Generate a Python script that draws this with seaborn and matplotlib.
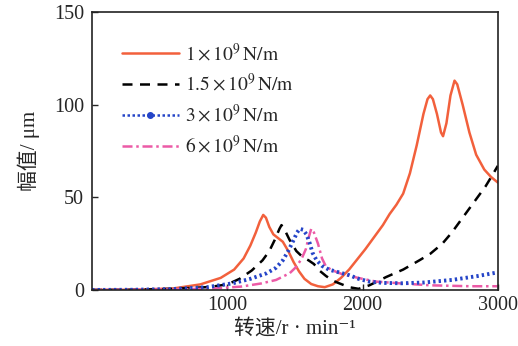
import numpy as np
import pandas as pd
import seaborn as sns
import matplotlib
matplotlib.use("Agg")
import matplotlib.pyplot as plt
from matplotlib.lines import Line2D

# values (speed in r/min, amplitude in um)
speed_1 = [0, 300, 600, 800, 950, 1050, 1120, 1170, 1210, 1240, 1265, 1285, 1310, 1340,
           1375, 1410, 1450, 1490, 1530, 1570, 1620, 1670, 1720, 1780, 1840, 1900, 1960,
           2020, 2080, 2150, 2200, 2250, 2300, 2350, 2400, 2450, 2480, 2500, 2520, 2550,
           2580, 2595, 2620, 2650, 2680, 2700, 2740, 2790, 2840, 2900, 2950, 3000]
amp_1 = [0, 0.1, 0.8, 3, 6.5, 11, 17, 24, 31, 37, 40.5, 39, 34, 30, 28, 26, 21, 15, 10,
         6, 3.2, 2, 1.5, 3, 6.5, 11, 16.5, 22, 28, 35, 41, 46, 52, 63, 78, 95, 103, 105,
         103, 95, 85, 83, 90, 105, 113, 111, 100, 85, 73, 65, 61, 58]

speed_15 = [0, 300, 600, 870, 1000, 1090, 1180, 1260, 1310, 1350, 1385, 1400, 1420, 1460,
            1510, 1560, 1600, 1640, 1680, 1730, 1780, 1830, 1900, 1970, 2050, 2120, 2175,
            2300, 2420, 2500, 2590, 2660, 2720, 2800, 2860, 2910, 2960, 3000]
amp_15 = [0, 0.1, 0.6, 1.6, 3, 6, 10.5, 16, 21, 27, 33, 35, 33, 27, 21, 17.5, 16, 14,
          10.5, 7.5, 5, 3.5, 1.5, 0.6, 2.5, 5, 7, 11, 16, 19.5, 25, 31, 37, 45, 51, 56,
          62, 67]

speed_3 = [0, 300, 600, 850, 1040, 1170, 1290, 1360, 1410, 1450, 1490, 1515, 1535, 1560,
           1585, 1610, 1630, 1660, 1700, 1750, 1800, 1850, 1900, 1970, 2050, 2150, 2290,
           2450, 2660, 2850, 3000]
amp_3 = [0, 0.1, 0.5, 1.5, 3.6, 6, 9, 12, 16, 21, 27, 31, 33, 32.5, 30, 25, 20, 16, 13,
         11, 10, 9, 8, 6, 4.5, 3.8, 3.6, 4, 5.4, 7.5, 9.5]

speed_6 = [0, 300, 600, 900, 1100, 1250, 1360, 1460, 1510, 1550, 1580, 1600, 1620, 1640,
           1670, 1700, 1730, 1780, 1850, 1980, 2100, 2270, 2500, 2800, 3000]
amp_6 = [0, 0.1, 0.3, 0.8, 1.8, 3.5, 5.4, 9, 12.5, 17, 22, 28, 33, 31, 25, 17, 12.5,
         10.5, 8.5, 6.3, 4.5, 3.6, 2.5, 2, 2]

labels = [r"$1\times10^{9}\,\mathrm{N/m}$", r"$1.5\times10^{9}\,\mathrm{N/m}$",
          r"$3\times10^{9}\,\mathrm{N/m}$", r"$6\times10^{9}\,\mathrm{N/m}$"]
x_ticks = [1000, 2000, 3000]
y_ticks = [0, 50, 100, 150]

sns.set_style("ticks")
plt.rcParams["font.family"] = ["Liberation Serif", "Noto Sans CJK SC", "DejaVu Sans"]
plt.rcParams["mathtext.fontset"] = "stix"
plt.rcParams["xtick.direction"] = "in"
plt.rcParams["ytick.direction"] = "in"

fig = plt.figure(figsize=(5.18, 3.46), dpi=100)
ax = fig.add_axes([0.178, 0.162, 0.783, 0.803])

red = "#f2603c"
blue = "#2545c8"
pink = "#ec5aa6"

sns.lineplot(x=speed_1, y=amp_1, ax=ax, color=red, linewidth=1.8)
sns.lineplot(x=speed_15, y=amp_15, ax=ax, color="black", linewidth=1.8,
             linestyle=(0, (4, 3)))
sns.lineplot(x=speed_6, y=amp_6, ax=ax, color=pink, linewidth=1.8,
             linestyle=(0, (4, 1.5, 1, 1.5)))
sns.lineplot(x=speed_3, y=amp_3, ax=ax, color=blue, linewidth=2.8,
             linestyle=(0, (0.6, 0.8)))

ax.set_xlim(0, 3000)
ax.set_ylim(0, 150)
ax.set_xticks(x_ticks)
ax.set_yticks(y_ticks)
ax.tick_params(labelsize=14.5, length=4, width=1)
ax.tick_params(axis="y", pad=6)
ax.tick_params(axis="x", pad=4)
for s in ax.spines.values():
    s.set_linewidth(1.2)
    s.set_color("#222222")

ax.set_xlabel("转速/r · min⁻¹", fontsize=15, labelpad=3)
ax.set_ylabel("幅值/ μm", fontsize=15, labelpad=10)

handles = [
    Line2D([], [], color=red, linewidth=1.8),
    Line2D([], [], color="black", linewidth=1.8, linestyle=(0, (4, 3))),
    Line2D([], [], color=blue, linewidth=1.8, linestyle=(0, (1, 1)),
           marker="o", markersize=4),
    Line2D([], [], color=pink, linewidth=1.8, linestyle=(0, (4, 1.5, 1, 1.5))),
]
ax.legend(handles, labels, loc="upper left", bbox_to_anchor=(0.055, 0.92),
          frameon=False, fontsize=14, handlelength=2.9, handletextpad=0.3,
          labelspacing=0.45, borderaxespad=0)

fig.savefig("out.png", dpi=100)
